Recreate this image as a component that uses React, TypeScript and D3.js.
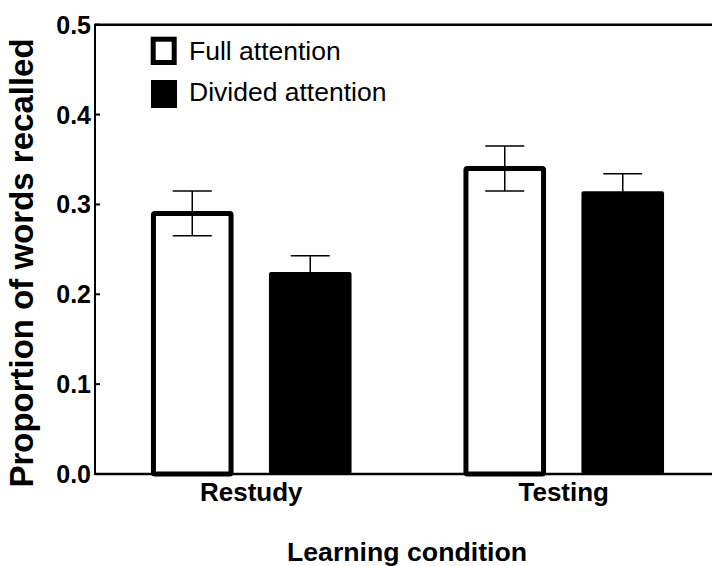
import React from "react";
import * as d3 from "d3";

const categories = ["Restudy", "Testing"];
const series = ["Full attention", "Divided attention"];
const fullValues = [0.29, 0.34];
const dividedValues = [0.222, 0.312];
const fullErrors = [0.025, 0.025];
const dividedErrors = [0.021, 0.022];
const yTicks = [0.0, 0.1, 0.2, 0.3, 0.4, 0.5];

const W = 712;
const H = 566;
const FONT = "'Liberation Sans', Arial, Helvetica, sans-serif";

export default function App() {
  const x0 = 95;
  const y = d3.scaleLinear().domain([0, 0.5]).range([474, 24.7]);
  const xGroup = d3.scaleBand<string>().domain(categories).range([x0, 720]).padding(0);
  const xSub = d3.scaleBand<string>().domain(series).range([-100.3, 100.3]).paddingInner(0.3);

  const data = categories.map((c, i) => ({
    cat: c,
    bars: [
      { s: series[0], v: fullValues[i], e: fullErrors[i] },
      { s: series[1], v: dividedValues[i], e: dividedErrors[i] },
    ],
  }));

  const sw = 5;
  const capW = 39;

  return (
    <svg
      width={W}
      height={H}
      style={{ position: "absolute", left: 0, top: 0, background: "#fff" }}
      fontFamily={FONT}
    >
      <rect x={0} y={0} width={W} height={H} fill="#fff" />
      {data.map((g) => {
        const gc = (xGroup(g.cat) as number) + xGroup.bandwidth() / 2;
        return (
          <g key={g.cat}>
            {g.bars.map((b, j) => {
              const bx = gc + (xSub(b.s) as number);
              const bw = xSub.bandwidth();
              const top = y(b.v);
              const cx = bx + bw / 2;
              const isFull = j === 0;
              return (
                <g key={b.s}>
                  {isFull ? (
                    <rect
                      x={bx + sw / 2}
                      y={top}
                      width={bw - sw}
                      height={y(0) - top}
                      fill="#fff"
                      stroke="#000"
                      strokeWidth={sw}
                      rx={1.5}
                    />
                  ) : (
                    <rect
                      x={bx}
                      y={top - sw / 2}
                      width={bw}
                      height={y(0) - top + sw / 2}
                      fill="#000"
                      rx={2}
                    />
                  )}
                  <line x1={cx} x2={cx} y1={y(b.v + b.e)} y2={y(b.v - b.e)} stroke="#000" strokeWidth={1.5} />
                  <line x1={cx - capW / 2} x2={cx + capW / 2} y1={y(b.v + b.e)} y2={y(b.v + b.e)} stroke="#000" strokeWidth={1.5} />
                  <line x1={cx - capW / 2} x2={cx + capW / 2} y1={y(b.v - b.e)} y2={y(b.v - b.e)} stroke="#000" strokeWidth={1.5} />
                </g>
              );
            })}
            <text x={gc} y={501} textAnchor="middle" fontWeight="bold" fontSize={26}>
              {g.cat}
            </text>
          </g>
        );
      })}

      {/* axes */}
      <line x1={x0} x2={W} y1={y(0)} y2={y(0)} stroke="#000" strokeWidth={2.5} />
      <line x1={x0} x2={W} y1={y(0.5)} y2={y(0.5)} stroke="#000" strokeWidth={2.5} />
      <line x1={x0} x2={x0} y1={y(0.5) - 1} y2={y(0) + 1} stroke="#000" strokeWidth={2} />
      {yTicks.map((t) => (
        <g key={t}>
          <line x1={x0} x2={x0 + 5} y1={y(t)} y2={y(t)} stroke="#000" strokeWidth={2} />
          <text x={91} y={y(t)} dy="0.36em" textAnchor="end" fontWeight="bold" fontSize={25}>
            {d3.format(".1f")(t)}
          </text>
        </g>
      ))}

      {/* axis titles */}
      <text
        transform={`translate(33,${263}) rotate(-90)`}
        textAnchor="middle"
        fontWeight="bold"
        fontSize={33}
      >
        Proportion of words recalled
      </text>
      <text x={407} y={561} textAnchor="middle" fontWeight="bold" fontSize={26.7}>
        Learning condition
      </text>

      {/* legend */}
      <rect x={153.2} y={39.2} width={21} height={23.3} fill="#fff" stroke="#000" strokeWidth={sw} />
      <text x={189} y={59.5} fontSize={26.5}>
        {series[0]}
      </text>
      <rect x={151} y={80} width={26} height={28} fill="#000" />
      <text x={189} y={100.5} fontSize={26.5}>
        {series[1]}
      </text>
    </svg>
  );
}
